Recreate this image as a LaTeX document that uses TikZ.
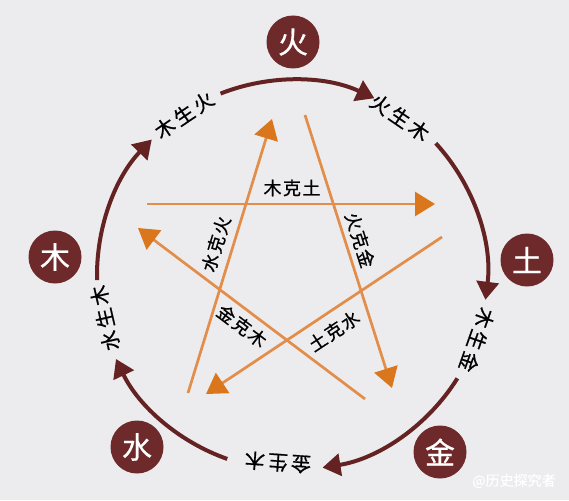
\documentclass[tikz,border=0pt]{standalone}
\usepackage{fontspec}
\newfontfamily\cjk{Noto Sans CJK SC}[FakeBold=0.6]
\newfontfamily\cjkwide{Noto Sans CJK SC}[LetterSpace=16,FakeBold=0.8]
\newfontfamily\cjkke{Noto Sans CJK SC}[LetterSpace=8,FakeBold=0.8]
\usetikzlibrary{arrows.meta,calc}

\definecolor{bg}{RGB}{236,236,238}
\definecolor{zong}{RGB}{110,42,42}
\definecolor{sheng}{RGB}{100,34,34}
\definecolor{kexian}{RGB}{226,142,74}
\definecolor{kehead}{RGB}{218,118,28}

\tikzset{
  xing/.style={circle,fill=zong,minimum size=53pt,inner sep=0pt,text=white,font=\cjk\fontsize{30}{30}\selectfont},
  shengline/.style={draw=sheng,line width=4pt,-{Triangle[length=18pt,width=22pt]}},
  keline/.style={draw=kexian,line width=2.7pt,-{Triangle[length=20pt,width=24pt,color=kehead,fill=kehead]}},
  shengtext/.style={inner sep=0pt,font=\cjkwide\fontsize{20}{20}\selectfont},
  ketext/.style={inner sep=0pt,font=\cjkke\fontsize{18}{18}\selectfont},
}

\begin{document}
\begin{tikzpicture}[x=1pt,y=1pt,yscale=-1,xscale=1]
\useasboundingbox[fill=bg] (0,0) rectangle (569,500);

% the five elements
\node[xing] (huo) at (293,42) {火};
\node[xing] (mu) at (55,257) {木};
\node[xing] (tu) at (527,260) {土};
\node[xing] (shui) at (137,447) {水};
\node[xing] (jin) at (440,452) {金};

% sheng cycle round the big circle
\coordinate (c) at (292,275);
\draw[shengline] ($(c)+(-111.5:195)$) arc[start angle=-111.5,end angle=-65,radius=195];
\draw[shengline] ($(c)+(-42.5:195)$) arc[start angle=-42.5,end angle=7.3,radius=195];
\draw[shengline] ($(c)+(32:195)$) arc[start angle=32,end angle=81,radius=195];
\draw[shengline] ($(c)+(109.4:195)$) arc[start angle=109.4,end angle=154.5,radius=195];
\draw[shengline] ($(c)+(-181.5:195)$) arc[start angle=-181.5,end angle=-136,radius=195];

% Text Node
\node[shengtext,rotate=34] (mu-huo) at ($(c)+(-124:193)$) {木生火};
% Text Node
\node[shengtext,rotate=-34.4] (huo-mu) at ($(c)+(-55.6:191)$) {火生木};
% Text Node
\node[shengtext,rotate=-109.4] (mu-jin) at ($(c)+(19.4:196)$) {木生金};
% Text Node
\node[shengtext,rotate=-184] (jin-mu) at ($(c)+(94.3:188)$) {金生木};
% Text Node
\node[shengtext,rotate=103] (shui-mu) at ($(c)+(167:192)$) {水生木};

% ke star
\coordinate (k1a) at (147,204);
\coordinate (k1b) at (435,204);
\coordinate (k2a) at (188,393);
\coordinate (k2b) at (272,119);
\coordinate (k3a) at (305,115);
\coordinate (k3b) at (392,388);
\coordinate (k4a) at (442,237);
\coordinate (k4b) at (206,394);
\coordinate (k5a) at (365,399);
\coordinate (k5b) at (138,228);
\draw[keline] (k1a) -- (k1b);
\draw[keline] (k2a) -- (k2b);
\draw[keline] (k3a) -- (k3b);
\draw[keline] (k4a) -- (k4b);
\draw[keline] (k5a) -- (k5b);

% Text Node
\node[ketext] (mu-tu) at (292,188) {木克土};
% Text Node
\node[ketext,rotate=73] (shui-huo) at (216,244) {水克火};
% Text Node
\node[ketext,rotate=-72.3] (huo-jin) at (360,240) {火克金};
% Text Node
\node[ketext,rotate=33.5] (tu-shui) at (334,331) {土克水};
% Text Node
\node[ketext,rotate=-37] (jin-mu2) at (242,326) {金克木};

% watermark
\node[font=\cjk\fontsize{14}{14}\selectfont,text=white,inner sep=0pt] (wm) at (514,481) {@历史探究者};

\end{tikzpicture}
\end{document}
